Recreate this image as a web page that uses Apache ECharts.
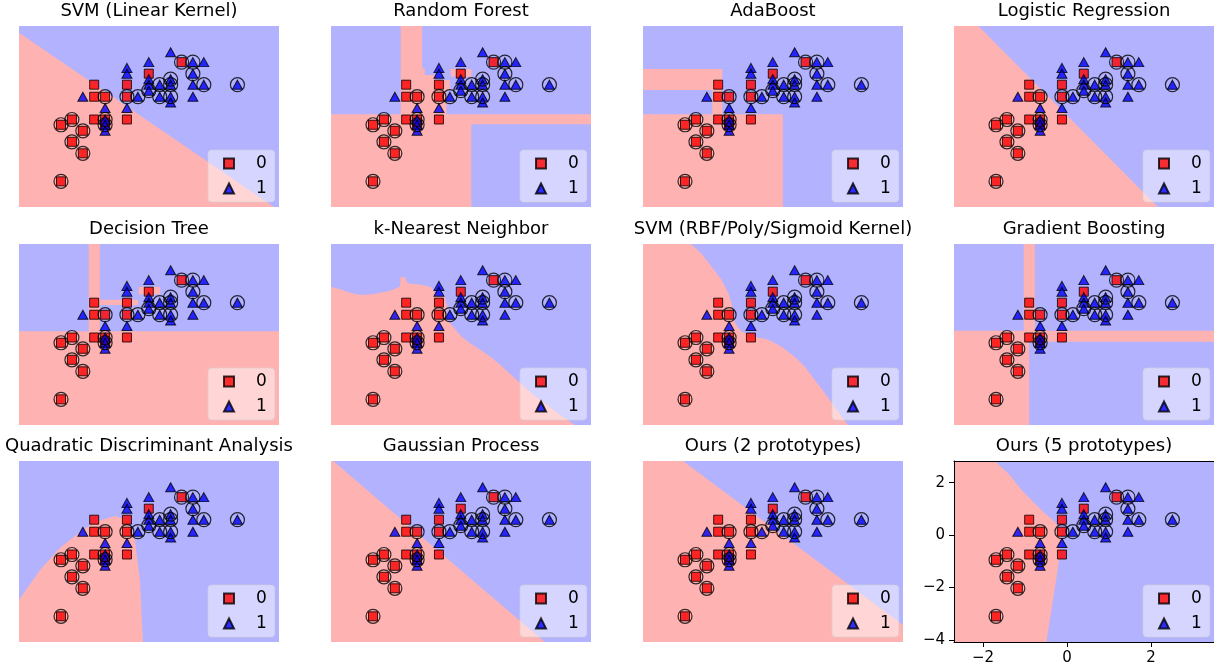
<!DOCTYPE html>
<html><head><meta charset="utf-8">
<script src="https://cdn.jsdelivr.net/npm/echarts@6/dist/echarts.min.js"></script>
<style>html,body{margin:0;padding:0;background:#fff}#c{width:1214px;height:669px}</style>
</head><body><div id="c"></div>
<script>
const titles = ["SVM (Linear Kernel)", "Random Forest", "AdaBoost", "Logistic Regression",
  "Decision Tree", "k-Nearest Neighbor", "SVM (RBF/Poly/Sigmoid Kernel)", "Gradient Boosting",
  "Quadratic Discriminant Analysis", "Gaussian Process", "Ours (2 prototypes)", "Ours (5 prototypes)"];
const xLimits = [-2.69, 3.50];
const yLimits = [-4.08, 2.83];
const xTicks = [-2, 0, 2];
const yTicks = [-4, -2, 0, 2];

// class 0 (squares)
const class0 = [[-1.69,-3.10],[-1.69,-0.94],[-1.43,-0.74],[-1.43,-1.59],[-1.17,-1.17],[-1.17,-2.03],
  [-0.90,0.59],[-0.90,0.13],[-0.90,-0.74],[-0.64,0.13],[-0.64,-0.74],[-0.64,-0.94],
  [-0.12,0.59],[-0.12,0.13],[-0.12,-0.74],[0.40,1.01],[1.18,1.45]];
// class 1 (triangles)
const class1 = [[-1.17,0.13],[-0.64,-0.30],[-0.64,-0.74],[-0.64,-0.94],[-0.64,-1.17],
  [-0.12,1.23],[-0.12,1.01],[-0.12,-0.30],[0.14,0.13],[0.40,1.45],[0.40,0.80],[0.40,0.59],[0.40,0.36],
  [0.66,0.59],[0.66,0.13],[0.92,1.83],[0.92,0.80],[0.92,0.59],[0.92,0.13],[0.92,-0.09],
  [1.45,1.45],[1.45,1.01],[1.45,0.59],[1.45,0.13],[1.71,1.45],[1.71,0.59],[2.51,0.59]];
// highlighted test samples
const testSet = [[-1.69,-3.10],[-1.69,-0.94],[-1.43,-0.74],[-1.43,-1.59],[-1.17,-1.17],[-1.17,-2.03],
  [-0.64,0.13],[-0.64,-0.74],[-0.64,-0.94],[-0.12,0.13],[1.18,1.45],[0.14,0.13],[0.40,0.36],
  [0.66,0.59],[0.66,0.13],[0.92,0.80],[0.92,0.59],[0.92,0.13],[1.45,1.45],[1.45,1.01],[1.71,0.59],[2.51,0.59]];

// class-0 (pink) decision regions, polygons in data coordinates
const regSvmLinear = [[[-2.69,2.57],[3.38,-4.08],[-2.69,-4.08]]];
const regRandomForest = [
  [[-1.03,2.83],[-0.52,2.83],[-0.52,1.21],[-0.46,1.21],[-0.46,0.96],[-0.22,0.96],[-0.22,0.77],[0.14,0.77],
   [0.14,0.39],[0.06,0.39],[0.06,-0.54],[3.50,-0.54],[3.50,-0.92],[0.65,-0.92],[0.65,-4.08],[-2.69,-4.08],
   [-2.69,-0.54],[-1.03,-0.54]],
  [[0.16,1.19],[0.65,1.19],[0.65,0.90],[0.16,0.90]]];
const regAdaBoost = [[[-2.69,1.19],[-0.80,1.19],[-0.80,-0.54],[0.64,-0.54],[0.64,-4.08],[-2.69,-4.08],
  [-2.69,-0.54],[-1.04,-0.54],[-1.04,0.39],[-2.69,0.39]]];
const regLogistic = [[[-2.69,2.83],[-2.11,2.83],[2.165,-4.08],[-2.69,-4.08]]];
const regDecisionTree = [
  [[-1.03,2.83],[-0.765,2.83],[-0.765,0.70],[0.145,0.70],[0.145,0.50],[-0.765,0.50],[-0.765,-0.50],
   [3.50,-0.50],[3.50,-4.08],[-2.69,-4.08],[-2.69,-0.50],[-1.03,-0.50]],
  [[0.16,1.19],[0.67,1.19],[0.67,0.91],[0.16,0.91]]];
const regKnn = [[[-2.69,1.20],[-2.44,1.08],[-2.20,0.95],[-1.96,0.88],[-1.65,0.92],[-1.29,1.05],[-1.05,1.20],
  [-1.03,1.58],[-0.93,1.56],[-0.87,1.33],[-0.54,1.27],[-0.30,1.18],[-0.22,0.95],[0.02,0.82],[0.08,0.44],
  [0.035,0.03],[0.18,-0.26],[0.42,-0.71],[0.65,-0.99],[0.89,-1.24],[1.13,-1.50],[1.37,-1.83],[1.60,-2.17],
  [1.84,-2.51],[2.08,-2.87],[2.40,-3.25],[2.71,-3.63],[3.11,-4.08],[-2.69,-4.08]]];
const regSvmRbf = [[[-2.69,2.83],[-1.55,2.83],[-1.30,2.47],[-1.06,1.97],[-0.82,1.46],[-0.66,0.95],[-0.58,0.57],
  [-0.54,0.18],[-0.50,-0.20],[-0.35,-0.52],[-0.03,-0.71],[0.29,-0.83],[0.61,-1.09],[0.92,-1.47],[1.16,-1.85],
  [1.40,-2.36],[1.64,-2.87],[1.87,-3.38],[2.19,-4.08],[-2.69,-4.08]]];
const regGradBoost = [[[-1.03,2.83],[-0.765,2.83],[-0.765,-0.48],[3.50,-0.48],[3.50,-0.90],[-0.90,-0.90],
  [-0.90,-4.08],[-2.69,-4.08],[-2.69,-0.48],[-1.03,-0.48]]];
const regQda = [[[-2.69,-2.48],[-2.19,-1.33],[-1.72,-0.49],[-1.24,0.12],[-0.88,0.50],[-0.41,0.73],[-0.10,0.58],
  [0.07,-0.19],[0.19,-1.71],[0.26,-4.08],[-2.69,-4.08]]];
const regGaussProc = [[[-2.69,2.83],[-2.64,2.83],[2.40,-4.08],[-2.69,-4.08]]];
const regOurs2 = [[[-2.69,2.83],[-1.74,2.83],[3.50,-3.43],[3.50,-4.08],[-2.69,-4.08]]];
const regOurs5 = [[[-2.69,2.83],[-1.72,2.83],[-1.36,2.30],[-1.12,1.79],[-0.81,1.27],[-0.57,0.89],[-0.29,0.51],
  [-0.13,0.13],[-0.17,-0.76],[-0.29,-2.03],[-0.49,-4.08],[-2.69,-4.08]]];
const regions = [regSvmLinear, regRandomForest, regAdaBoost, regLogistic, regDecisionTree, regKnn,
  regSvmRbf, regGradBoost, regQda, regGaussProc, regOurs2, regOurs5];

const colLeft = [19, 331, 643, 954], rowTop = [26, 244, 461], W = 260, H = 181;
const FONT = 'DejaVu Sans';
const PINK = '#ffb2b2', BLUE = '#b2b2ff';
const minus = v => (v < 0 ? '\u2212' + (-v) : String(v));

const grid = [], xAxis = [], yAxis = [], series = [], title = [], legend = [];
for (let i = 0; i < 12; i++) {
  const L = colLeft[i % 4], T = rowTop[Math.floor(i / 4)];
  const last = i === 11;
  grid.push({left: L, top: T, width: W, height: H, show: true, backgroundColor: BLUE, borderWidth: 0});
  title.push({text: titles[i], left: L + W / 2, top: T - 26, textAlign: 'center', padding: 0,
    textStyle: {fontFamily: FONT, fontSize: 18, fontWeight: 'normal', color: '#000', lineHeight: 22}});
  xAxis.push({type: 'value', gridIndex: i, min: xLimits[0], max: xLimits[1], show: last, z: 10,
    splitLine: {show: false},
    axisLine: {show: true, onZero: false, lineStyle: {color: '#000', width: 1}},
    axisTick: {show: true, length: 5, customValues: xTicks, lineStyle: {color: '#000'}},
    axisLabel: {customValues: xTicks, formatter: minus, fontFamily: FONT, fontSize: 15, color: '#000', margin: 9}});
  yAxis.push({type: 'value', gridIndex: i, min: yLimits[0], max: yLimits[1], show: last, z: 10,
    splitLine: {show: false},
    axisLine: {show: true, onZero: false, lineStyle: {color: '#000', width: 1}},
    axisTick: {show: true, length: 5, customValues: yTicks, lineStyle: {color: '#000'}},
    axisLabel: {customValues: yTicks, formatter: minus, fontFamily: FONT, fontSize: 15, color: '#000', margin: 9}});
  const reg = regions[i];
  series.push({type: 'custom', xAxisIndex: i, yAxisIndex: i, clip: true, silent: true, z: 1,
    data: reg.map((_, k) => [k]),
    renderItem: (params, api) => ({type: 'polygon',
      shape: {points: reg[params.dataIndex].map(p => api.coord(p))},
      style: {fill: PINK}})});
  series.push({name: '0', type: 'scatter', xAxisIndex: i, yAxisIndex: i, data: class0, symbol: 'rect',
    symbolSize: 9, z: 3, silent: true,
    itemStyle: {color: '#ff0000', borderColor: '#000', borderWidth: 1, opacity: 0.8}});
  series.push({name: '1', type: 'scatter', xAxisIndex: i, yAxisIndex: i, data: class1, symbol: 'triangle',
    symbolSize: [10, 9], z: 4, silent: true,
    itemStyle: {color: '#0000ff', borderColor: '#000', borderWidth: 1, opacity: 0.8}});
  series.push({name: 'test', type: 'scatter', xAxisIndex: i, yAxisIndex: i, data: testSet, symbol: 'circle',
    symbolSize: 14, z: 5, silent: true,
    itemStyle: {color: 'rgba(0,0,0,0)', borderColor: '#000', borderWidth: 1.2}});
  if (last) {
    xAxis.push({type: 'value', gridIndex: i, min: xLimits[0], max: xLimits[1], position: 'top', z: 10,
      splitLine: {show: false}, axisTick: {show: false}, axisLabel: {show: false},
      axisLine: {show: true, onZero: false, lineStyle: {color: '#000', width: 1}}});
    yAxis.push({type: 'value', gridIndex: i, min: yLimits[0], max: yLimits[1], position: 'right', z: 10,
      splitLine: {show: false}, axisTick: {show: false}, axisLabel: {show: false},
      axisLine: {show: true, onZero: false, lineStyle: {color: '#000', width: 1}}});
  }
  legend.push({left: L + 189, top: T + 124, orient: 'vertical', selectedMode: false,
    data: [{name: '0', icon: 'rect'}, {name: '1', icon: 'triangle'}],
    itemWidth: 10, itemHeight: 10, itemGap: 8, padding: [5, 8, 5, 15],
    backgroundColor: 'rgba(255,255,255,0.45)', borderColor: 'rgba(210,210,210,0.6)', borderWidth: 1, borderRadius: 4,
    textStyle: {fontFamily: FONT, fontSize: 17, color: '#000', lineHeight: 17, padding: [0, 0, 0, 17]}});
}

const chart = echarts.init(document.getElementById('c'), null, {renderer: 'canvas'});
chart.setOption({animation: false, backgroundColor: '#fff', title, grid, xAxis, yAxis, series, legend});
</script></body></html>
